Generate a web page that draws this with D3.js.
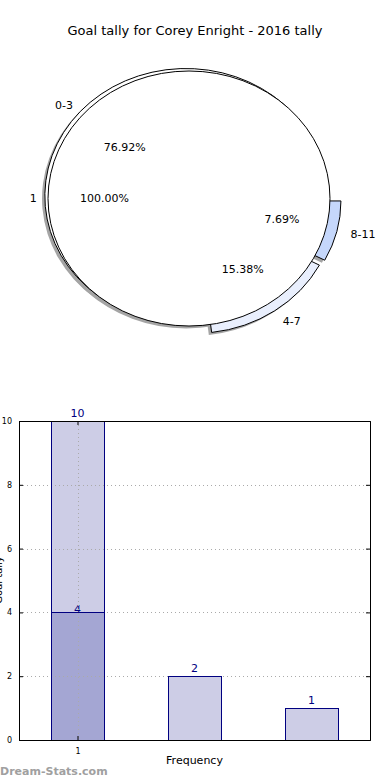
<!DOCTYPE html>
<html>
<head>
<meta charset="utf-8">
<script src="https://cdn.jsdelivr.net/npm/d3@7"></script>
<style>
  body { margin: 0; background: #fff; }
  text { font-family: "DejaVu Sans", sans-serif; }
</style>
</head>
<body>
<div id="chart"></div>
<script>
// chart data
var title = "Goal tally for Corey Enright - 2016 tally";

// outer ring of the pie: goal ranges
var rangeLabels = ["0-3", "4-7", "8-11"];
var rangeValues = [10, 2, 1];
var rangeColors = ["#ffffff", "#e9effd", "#c5d7fb"];
var rangeExplode = [0.03, 0.07, 0.08];
var rangeLabelDist = [1.07, 1.1, 1.1];
var rangePctDist = [0.58, 0.6, 0.6];

// inner pie: goals per game
var innerLabels = ["1"];
var innerValues = [13];

// bar chart
var barX = [1, 2, 3];
var barTotals = [10, 2, 1];
var barLower = [4, 0, 0];
var xTicks = [1];
var yTicks = [0, 2, 4, 6, 8, 10];

var svgWidth = 390;
var svgHeight = 780;

var svg = d3.select("#chart")
  .append("svg")
  .attr("width", svgWidth)
  .attr("height", svgHeight);

svg.append("text")
  .attr("x", 195)
  .attr("y", 35)
  .attr("text-anchor", "middle")
  .attr("font-size", "13px")
  .attr("fill", "#000")
  .text(title);

// ---- pie (drawn on a unit circle, then stretched to an ellipse) ----
var pieCx = 189, pieCy = 198.5, sx = 141, sy = 127.5;

// matplotlib style: start at 3 o'clock, go counter-clockwise
var pie = d3.pie().sort(null)
  .startAngle(Math.PI / 2)
  .endAngle(Math.PI / 2 - 2 * Math.PI);

var unitArc = d3.arc().innerRadius(0).outerRadius(1);

var outerSlices = pie(rangeValues);
var innerSlices = pie(innerValues);

function dir(d) {
  var m = (d.startAngle + d.endAngle) / 2;
  return [Math.sin(m), -Math.cos(m)];
}

var pieGroup = svg.append("g")
  .attr("transform", `translate(${pieCx}, ${pieCy})`);

function place(d, r) {
  var v = dir(d);
  return [v[0] * r * sx, v[1] * r * sy];
}

function wedgeTransform(d, ex) {
  var v = dir(d);
  return `translate(${v[0] * ex * sx}, ${v[1] * ex * sy}) scale(${sx}, ${sy})`;
}

// shadows
var shadowGroup = pieGroup.append("g")
  .attr("opacity", 0.5)
  .attr("transform", `translate(${-0.02 * sx}, ${0.02 * sy})`);

shadowGroup.selectAll("path.so")
  .data(outerSlices)
  .enter()
  .append("path")
  .attr("d", unitArc)
  .attr("transform", (d, i) => wedgeTransform(d, rangeExplode[i]))
  .attr("fill", "#4d4d4d");

shadowGroup.selectAll("path.si")
  .data(innerSlices)
  .enter()
  .append("path")
  .attr("d", unitArc)
  .attr("transform", d => wedgeTransform(d, 0))
  .attr("fill", "#4d4d4d");

// outer wedges
pieGroup.selectAll("path.outer")
  .data(outerSlices)
  .enter()
  .append("path")
  .attr("class", "outer")
  .attr("d", unitArc)
  .attr("transform", (d, i) => wedgeTransform(d, rangeExplode[i]))
  .attr("fill", (d, i) => rangeColors[i])
  .attr("stroke", "#000")
  .attr("stroke-width", 1)
  .attr("vector-effect", "non-scaling-stroke");

// inner pie
pieGroup.selectAll("path.inner")
  .data(innerSlices)
  .enter()
  .append("path")
  .attr("class", "inner")
  .attr("d", unitArc)
  .attr("transform", d => wedgeTransform(d, 0))
  .attr("fill", "#fff")
  .attr("stroke", "#000")
  .attr("stroke-width", 1)
  .attr("vector-effect", "non-scaling-stroke");

// labels for the ring
outerSlices.forEach(function(d, i) {
  var p = place(d, rangeExplode[i] + rangeLabelDist[i]);
  pieGroup.append("text")
    .attr("x", p[0])
    .attr("y", p[1])
    .attr("dy", "0.35em")
    .attr("text-anchor", p[0] > 0 ? "start" : "end")
    .attr("font-size", "11px")
    .text(rangeLabels[i]);

  var q = place(d, rangeExplode[i] + rangePctDist[i]);
  pieGroup.append("text")
    .attr("x", q[0])
    .attr("y", q[1])
    .attr("dy", "0.35em")
    .attr("text-anchor", "middle")
    .attr("font-size", "11px")
    .text((d.value / d3.sum(rangeValues) * 100).toFixed(2) + "%");
});

innerSlices.forEach(function(d, i) {
  var p = place(d, 1.08);
  pieGroup.append("text")
    .attr("x", p[0])
    .attr("y", p[1])
    .attr("dy", "0.35em")
    .attr("text-anchor", p[0] > 0 ? "start" : "end")
    .attr("font-size", "11px")
    .text(innerLabels[i]);

  var q = place(d, 0.6);
  pieGroup.append("text")
    .attr("x", q[0])
    .attr("y", q[1])
    .attr("dy", "0.35em")
    .attr("text-anchor", "middle")
    .attr("font-size", "11px")
    .text((d.value / d3.sum(innerValues) * 100).toFixed(2) + "%");
});

// ---- bar chart ----
var plot = { left: 19, right: 370, top: 421, bottom: 740 };

var x = d3.scaleLinear().domain([0.5, 3.5]).range([plot.left, plot.right]);
var y = d3.scaleLinear().domain([0, 10]).range([plot.bottom, plot.top]);
var barW = x(1.45) - x(1);

var lowerData = barLower.map((d, i) => ({ x: barX[i], v: d })).filter(d => d.v > 0);
var totalData = barTotals.map((d, i) => ({ x: barX[i], v: d }));

var barGroup = svg.append("g");

function drawBars(g, data, fill) {
  g.selectAll(null)
    .data(data)
    .enter()
    .append("rect")
    .attr("x", d => Math.round(x(d.x) - barW / 2) + 0.5)
    .attr("y", d => Math.round(y(d.v)) + 0.5)
    .attr("width", Math.round(barW))
    .attr("height", d => Math.round(y(0)) - Math.round(y(d.v)))
    .attr("fill", fill)
    .attr("stroke", "#000080")
    .attr("stroke-width", 1);
}

drawBars(barGroup, totalData, "#cdcde6");
drawBars(barGroup, lowerData, "#a4a6d3");

// grid lines (dotted, visible over the bar fill)
var grid = svg.append("g")
  .attr("stroke", "#aaa")
  .attr("stroke-width", 1)
  .attr("stroke-dasharray", "1,3");

grid.selectAll("line.h")
  .data(yTicks)
  .enter()
  .append("line")
  .attr("x1", plot.left)
  .attr("x2", plot.right)
  .attr("y1", d => Math.round(y(d)) + 0.5)
  .attr("y2", d => Math.round(y(d)) + 0.5);

grid.selectAll("line.v")
  .data(xTicks)
  .enter()
  .append("line")
  .attr("x1", d => Math.round(x(d)) + 0.5)
  .attr("x2", d => Math.round(x(d)) + 0.5)
  .attr("y1", plot.top)
  .attr("y2", plot.bottom);

// bar outlines again so edges stay solid over the grid
var edgeGroup = svg.append("g");
drawBars(edgeGroup, totalData, "none");
drawBars(edgeGroup, lowerData, "none");

// value labels
barGroup.selectAll("text.total")
  .data(totalData)
  .enter()
  .append("text")
  .attr("x", d => x(d.x))
  .attr("y", d => y(d.v) - 4)
  .attr("text-anchor", "middle")
  .attr("font-size", "11px")
  .attr("fill", "#000080")
  .text(d => d.v);

barGroup.selectAll("text.lower")
  .data(lowerData)
  .enter()
  .append("text")
  .attr("x", d => x(d.x))
  .attr("y", d => y(d.v) + 1)
  .attr("text-anchor", "middle")
  .attr("font-size", "11px")
  .attr("fill", "#000080")
  .text(d => d.v);

// axes (inward ticks, matplotlib classic)
var leftAxis = d3.axisLeft(y).tickValues(yTicks).tickSize(-4).tickPadding(7);
var rightAxis = d3.axisRight(y).tickValues(yTicks).tickSize(-4).tickFormat("");
var bottomAxis = d3.axisBottom(x).tickValues(xTicks).tickSize(-4).tickPadding(8).tickFormat(d3.format("d"));
var topAxis = d3.axisTop(x).tickValues(xTicks).tickSize(-4).tickFormat("");

function styleAxis(g) {
  g.select(".domain").attr("stroke", "#000");
  g.selectAll(".tick line").attr("stroke", "#000");
  g.selectAll(".tick text").attr("font-size", "8px").attr("fill", "#000")
    .attr("font-family", "DejaVu Sans, sans-serif");
}

svg.append("g").attr("transform", `translate(${plot.left}, 0)`).call(leftAxis).call(styleAxis);
svg.append("g").attr("transform", `translate(${plot.right}, 0)`).call(rightAxis).call(styleAxis);
svg.append("g").attr("transform", `translate(0, ${plot.bottom})`).call(bottomAxis).call(styleAxis);
svg.append("g").attr("transform", `translate(0, ${plot.top})`).call(topAxis).call(styleAxis);

svg.append("text")
  .attr("x", (plot.left + plot.right) / 2)
  .attr("y", 764)
  .attr("text-anchor", "middle")
  .attr("font-size", "11px")
  .text("Frequency");

svg.append("text")
  .attr("transform", "rotate(-90)")
  .attr("x", -580)
  .attr("y", 2)
  .attr("text-anchor", "middle")
  .attr("font-size", "10px")
  .text("Goal tally");

svg.append("text")
  .attr("x", 0)
  .attr("y", 775)
  .attr("font-size", "11px")
  .attr("font-weight", "bold")
  .attr("fill", "#a0a0a0")
  .text("Dream-Stats.com");
</script>
</body>
</html>
